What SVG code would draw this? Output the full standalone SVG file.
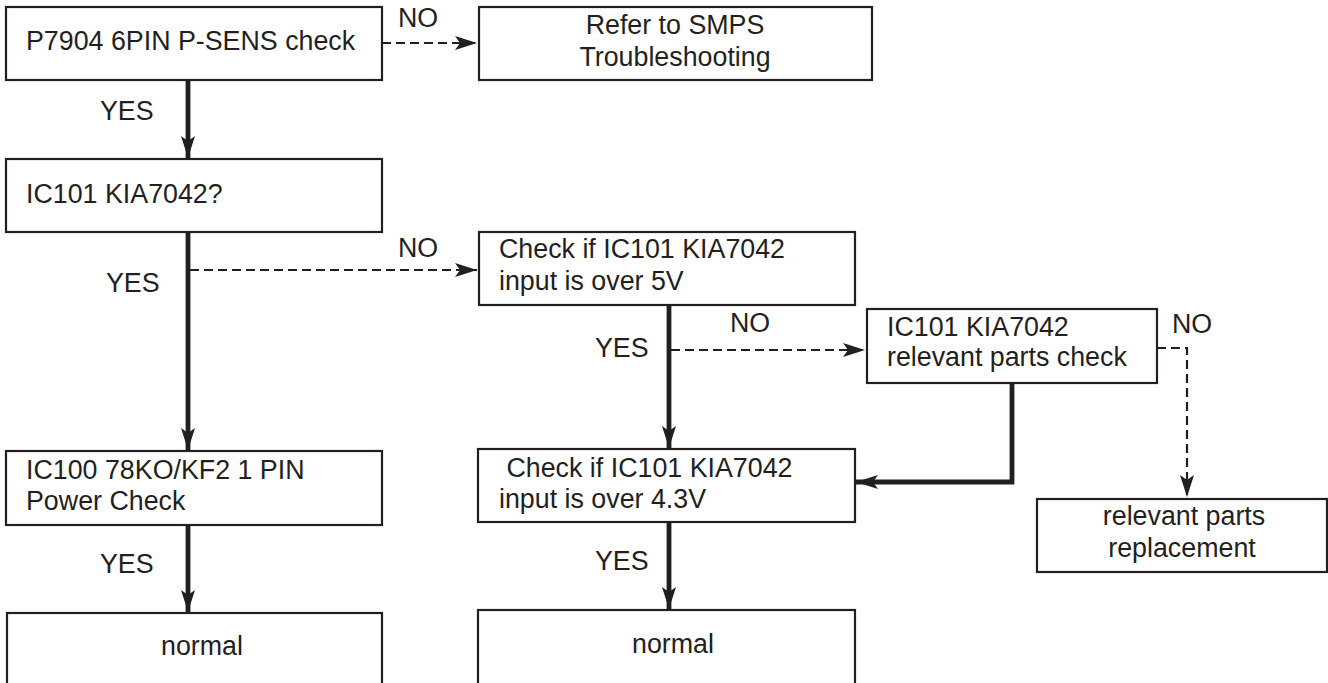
<svg xmlns="http://www.w3.org/2000/svg" width="1328" height="683" viewBox="0 0 1328 683">
<defs>
<style>
.box{fill:#fff;stroke:#231f20;stroke-width:2.2}
.t{font-family:"Liberation Sans",Arial,sans-serif;font-size:26.8px;fill:#231f20}
.c{text-anchor:middle}
.thick{fill:none;stroke:#231f20;stroke-width:4.8}
.dash{fill:none;stroke:#231f20;stroke-width:2.2;stroke-dasharray:9 5}
</style>
<marker id="ah" viewBox="0 0 22 14" refX="22" refY="7" markerWidth="22" markerHeight="14" markerUnits="userSpaceOnUse" orient="auto">
<path d="M0,0 L22,7 L0,14 L5,7 Z" fill="#231f20"/>
</marker>
</defs>
<rect width="1328" height="683" fill="#fff"/>
<g id="connectors">
<path class="dash" d="M382,43 H477" marker-end="url(#ah)"/>
<path class="thick" d="M188,80 V158" marker-end="url(#ah)"/>
<path class="thick" d="M188,232 V450" marker-end="url(#ah)"/>
<path class="dash" d="M190,270 H477" marker-end="url(#ah)"/>
<path class="thick" d="M669,305 V448" marker-end="url(#ah)"/>
<path class="dash" d="M671,350 H865" marker-end="url(#ah)"/>
<path class="dash" d="M1157,348 H1187 V497" marker-end="url(#ah)"/>
<path class="thick" d="M1012,383 V482 H856" marker-end="url(#ah)"/>
<path class="thick" d="M188,525 V612" marker-end="url(#ah)"/>
<path class="thick" d="M669,522 V609" marker-end="url(#ah)"/>
<text class="t" x="398" y="27">NO</text>
<text class="t" x="100" y="120">YES</text>
<text class="t" x="398" y="257">NO</text>
<text class="t" x="106" y="292">YES</text>
<text class="t" x="730" y="332">NO</text>
<text class="t" x="595" y="357">YES</text>
<text class="t" x="1172" y="333">NO</text>
<text class="t" x="100" y="573">YES</text>
<text class="t" x="595" y="570">YES</text>
</g>
<g id="n1"><rect class="box" x="6" y="7" width="376" height="73"/><text class="t" x="26" y="50">P7904 6PIN P-SENS check</text></g>
<g id="n2"><rect class="box" x="479" y="7" width="393" height="73"/><text class="t c" x="675" y="34">Refer to SMPS</text><text class="t c" x="675" y="66">Troubleshooting</text></g>
<g id="n3"><rect class="box" x="6" y="159" width="376" height="73"/><text class="t" x="26" y="203">IC101 KIA7042?</text></g>
<g id="n4"><rect class="box" x="479" y="232" width="376" height="73"/><text class="t" x="499" y="258">Check if IC101 KIA7042</text><text class="t" x="499" y="290">input is over 5V</text></g>
<g id="n5"><rect class="box" x="867" y="309" width="290" height="74"/><text class="t" x="887" y="336">IC101 KIA7042</text><text class="t" x="887" y="366">relevant parts check</text></g>
<g id="n6"><rect class="box" x="6" y="451" width="376" height="74"/><text class="t" x="26" y="479">IC100 78KO/KF2 1 PIN</text><text class="t" x="26" y="510">Power Check</text></g>
<g id="n7"><rect class="box" x="478" y="449" width="377" height="73"/><text class="t" x="499" y="477" xml:space="preserve"> Check if IC101 KIA7042</text><text class="t" x="499" y="508">input is over 4.3V</text></g>
<g id="n8"><rect class="box" x="1037" y="499" width="290" height="73"/><text class="t c" x="1184" y="525">relevant parts</text><text class="t c" x="1182" y="557">replacement</text></g>
<g id="n9"><rect class="box" x="7" y="613" width="375" height="80"/><text class="t c" x="202" y="655">normal</text></g>
<g id="n10"><rect class="box" x="478" y="610" width="377" height="83"/><text class="t c" x="673" y="653">normal</text></g>
</svg>
